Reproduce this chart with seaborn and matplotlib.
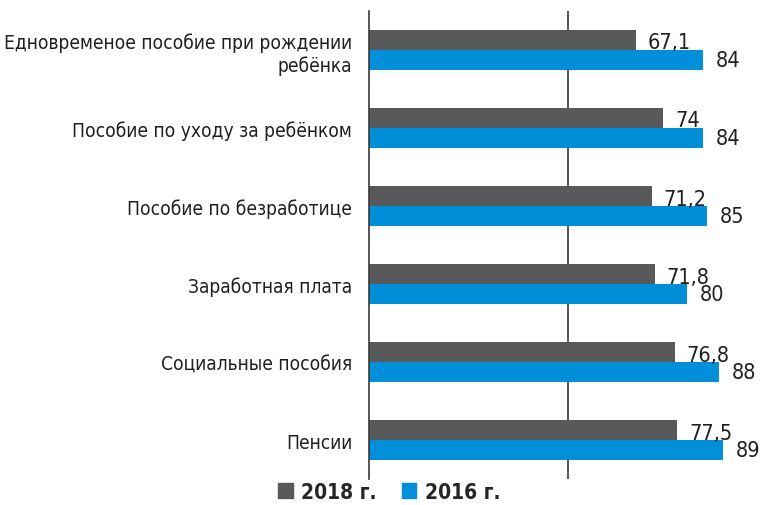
import pandas as pd
import seaborn as sns
import matplotlib.pyplot as plt
from matplotlib.patches import Patch

categories = [
    'Едновременое пособие при рождении\nребёнка',
    'Пособие по уходу за ребёнком',
    'Пособие по безработице',
    'Заработная плата',
    'Социальные пособия',
    'Пенсии',
]
values_2018 = [67.1, 74, 71.2, 71.8, 76.8, 77.5]
values_2016 = [84, 84, 85, 80, 88, 89]
series = ['2018 г.', '2016 г.']
colors = ['#58595b', '#008fd8']

df = pd.DataFrame({
    'cat': categories * 2,
    'val': values_2018 + values_2016,
    'year': [series[0]] * len(categories) + [series[1]] * len(categories),
})

sns.set_style('white')
plt.rcParams['font.family'] = ['DejaVu Sans']
plt.rcParams['font.stretch'] = 'condensed'

fig = plt.figure(figsize=(7.62, 5.06), dpi=100)
ax = fig.add_axes([0.484, 0.051, 0.512, 0.925])

sns.barplot(data=df, y='cat', x='val', hue='year', orient='h',
            palette=colors, width=0.51, gap=0, ax=ax, legend=False,
            saturation=1, linewidth=0)

ax.set_xlim(0, 98)
ax.set_ylim(5.5, -0.5)
ax.axvline(50, color='#3a3a3a', lw=1.2, zorder=0)
for s in ['top', 'right', 'bottom']:
    ax.spines[s].set_visible(False)
ax.spines['left'].set_color('#3a3a3a')
ax.spines['left'].set_linewidth(1.2)
ax.set_xticks([])
ax.set_xlabel('')
ax.set_ylabel('')
ax.tick_params(axis='y', length=0, pad=12, labelsize=13.8, labelcolor='#231f20')
for lbl in ax.get_yticklabels():
    lbl.set_horizontalalignment('right')
    lbl.set_multialignment('right')

fmt = lambda v: f'{v:g}'.replace('.', ',')
bw = 0.51 / 2
for i in range(len(categories)):
    ax.text(values_2018[i] + 2.9, i + 0.03, fmt(values_2018[i]), ha='left', va='bottom',
            fontsize=15.5, color='#231f20')
    ax.text(values_2016[i] + 3.2, i + bw / 2, fmt(values_2016[i]), ha='left', va='center',
            fontsize=15.5, color='#231f20')

handles = [Patch(color=c, label=s) for c, s in zip(colors, series)]
fig.legend(handles=handles, loc='center', bbox_to_anchor=(0.511, 0.026), ncol=2,
           frameon=False, handlelength=0.7, handleheight=0.7, handletextpad=0.4,
           columnspacing=1.2, prop={'weight': 'bold', 'size': 15})

fig.savefig('out.png', dpi=100)
